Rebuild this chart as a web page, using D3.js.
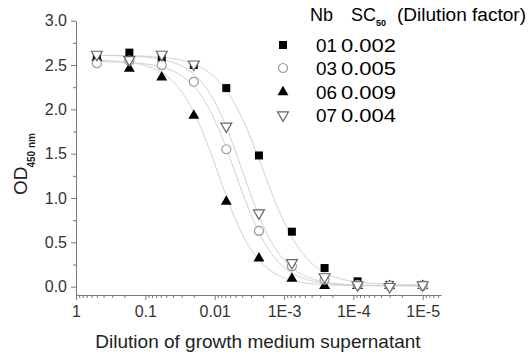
<!DOCTYPE html>
<html>
<head>
<meta charset="utf-8">
<script src="https://cdn.jsdelivr.net/npm/d3@7"></script>
<style>
  body { margin: 0; background: #fff; }
  svg { font-family: "Liberation Sans", Arial, sans-serif; }
</style>
</head>
<body>
<div id="vis"></div>
<script>
const FRAME_WIDTH = 529;
const FRAME_HEIGHT = 358;

// data
const DILUTIONS = [0.5, 0.17, 0.058, 0.02, 0.0068, 0.0023, 7.7e-4, 2.6e-4, 8.7e-5, 3e-5, 1e-5];
const OD_01 = [2.60, 2.64, 2.58, 2.50, 2.24, 1.48, 0.62, 0.21, 0.06, 0.02, 0.02];
const OD_03 = [2.52, 2.55, 2.50, 2.31, 1.55, 0.63, 0.23, 0.08, 0.02, 0.01, 0.01];
const OD_06 = [2.58, 2.46, 2.36, 1.93, 0.96, 0.32, 0.09, 0.01, 0.01, 0.01, 0.01];
const OD_07 = [2.62, 2.56, 2.62, 2.51, 1.81, 0.83, 0.27, 0.11, 0.02, 0.00, 0.02];

const NB = ["01", "03", "06", "07"];
const SC50_LABELS = ["0.002", "0.005", "0.009", "0.004"];

// logistic fit parameters per series
const SC50 = [0.002, 0.005, 0.009, 0.004];
const FIT_TOP = [2.61, 2.54, 2.56, 2.61];
const FIT_BOTTOM = [0.02, 0.01, 0.01, 0.01];
const FIT_HILL = [1.4, 1.5, 1.5, 1.5];

const X_TICKS = [1, 0.1, 0.01, 1e-3, 1e-4, 1e-5];
const X_TICK_LABELS = ["1", "0.1", "0.01", "1E-3", "1E-4", "1E-5"];
const Y_TICKS = [0, 0.5, 1.0, 1.5, 2.0, 2.5, 3.0];

const SERIES = [OD_01, OD_03, OD_06, OD_07];

const svg = d3.select("#vis")
  .append("svg")
    .attr("width", FRAME_WIDTH)
    .attr("height", FRAME_HEIGHT);

// scales (x is reversed log)
const X_SCALE = d3.scaleLog()
  .domain([1, Math.pow(10, -5.264)])
  .range([76, 441]);

const Y_SCALE = d3.scaleLinear()
  .domain([-0.094, 3.0])
  .range([295, 20.7]);

// minor ticks
let xMinor = [];
for (let e = 0; e <= 5; e++) {
  for (let k = 2; k <= 9; k++) {
    const v = k * Math.pow(10, -e - 1);
    if (v >= X_SCALE.domain()[1]) xMinor.push(v);
  }
}
const yMinor = d3.range(0.25, 3.0, 0.5);

// x axis
svg.append("g")
  .attr("transform", "translate(0,295)")
  .call(d3.axisBottom(X_SCALE).tickValues(xMinor).tickSize(3).tickSizeOuter(0).tickFormat(""))
  .call(g => g.select(".domain").remove())
  .selectAll("line").attr("stroke", "#777");

const xAxis = svg.append("g")
  .attr("transform", "translate(0,295)")
  .call(d3.axisBottom(X_SCALE)
    .tickValues(X_TICKS)
    .tickFormat((d, i) => X_TICK_LABELS[i])
    .tickSize(5)
    .tickSizeOuter(0)
    .tickPadding(6));
xAxis.select(".domain").attr("stroke", "#777");
xAxis.selectAll("line").attr("stroke", "#777");
xAxis.selectAll("text").attr("font-size", "16px").attr("fill", "#333")
  .attr("font-family", "Liberation Sans, Arial, sans-serif");

// y axis
svg.append("g")
  .attr("transform", "translate(76,0)")
  .call(d3.axisLeft(Y_SCALE).tickValues(yMinor).tickSize(3).tickSizeOuter(0).tickFormat(""))
  .call(g => g.select(".domain").remove())
  .selectAll("line").attr("stroke", "#777");

const yAxis = svg.append("g")
  .attr("transform", "translate(76,0)")
  .call(d3.axisLeft(Y_SCALE)
    .tickValues(Y_TICKS)
    .tickFormat(d3.format(".1f"))
    .tickSize(5)
    .tickSizeOuter(0)
    .tickPadding(4));
yAxis.select(".domain").attr("stroke", "#777");
yAxis.selectAll("line").attr("stroke", "#777");
yAxis.selectAll("text").attr("font-size", "16px").attr("fill", "#333")
  .attr("font-family", "Liberation Sans, Arial, sans-serif");

// axis titles
svg.append("text")
  .attr("x", 258)
  .attr("y", 348)
  .attr("text-anchor", "middle")
  .attr("font-size", "19px")
  .attr("fill", "#222")
  .text("Dilution of growth medium supernatant");

const yTitle = svg.append("text")
  .attr("transform", "translate(27,195) rotate(-90)")
  .attr("font-size", "19px")
  .attr("fill", "#222");
yTitle.append("tspan").text("OD");
yTitle.append("tspan")
  .attr("dy", 8)
  .attr("dx", -1)
  .attr("font-size", "10px")
  .attr("font-weight", "bold")
  .text("450 nm");

// fit curves
const curveX = d3.range(Math.log10(0.5), -5.0001, -0.02).map(v => Math.pow(10, v));
const line = d3.line()
  .x(d => X_SCALE(d[0]))
  .y(d => Y_SCALE(d[1]));

SERIES.forEach((s, i) => {
  const pts = curveX.map(x => [x,
    FIT_BOTTOM[i] + (FIT_TOP[i] - FIT_BOTTOM[i]) / (1 + Math.pow(SC50[i] / x, FIT_HILL[i]))]);
  svg.append("path")
    .datum(pts)
    .attr("d", line)
    .attr("fill", "none")
    .attr("stroke", "#d0d0d0")
    .attr("stroke-width", 1);
});

// markers
const SYMBOLS = [
  {type: d3.symbolSquare, size: 64, fill: "#000", stroke: "none", rot: 0},
  {type: d3.symbolCircle, size: 64, fill: "#fff", stroke: "#999", rot: 0},
  {type: d3.symbolTriangle, size: 52, fill: "#000", stroke: "none", rot: 0},
  {type: d3.symbolTriangle, size: 52, fill: "#fff", stroke: "#666", rot: 180}
];
const DRAW_ORDER = [0, 2, 1, 3];

DRAW_ORDER.forEach(i => {
  const sym = SYMBOLS[i];
  svg.selectAll(".pt" + i)
    .data(SERIES[i])
    .enter()
    .append("path")
      .attr("class", "pt" + i)
      .attr("d", d3.symbol().type(sym.type).size(sym.size))
      .attr("transform", (d, j) => "translate(" + X_SCALE(DILUTIONS[j]) + "," + Y_SCALE(d) + ") rotate(" + sym.rot + ")")
      .attr("fill", sym.fill)
      .attr("stroke", sym.stroke)
      .attr("stroke-width", 1.2);
});

// legend
const header = svg.append("text")
  .attr("y", 21)
  .attr("font-size", "18px")
  .attr("fill", "#000");
header.append("tspan").attr("x", 310).text("Nb");
header.append("tspan").attr("x", 351).text("SC");
header.append("tspan").attr("dy", 5).attr("font-size", "9px").attr("font-weight", "bold").text("50");
svg.append("text")
  .attr("x", 397)
  .attr("y", 21)
  .attr("font-size", "18px")
  .attr("fill", "#000")
  .attr("textLength", 129)
  .attr("lengthAdjust", "spacingAndGlyphs")
  .text("(Dilution factor)");

const ROW_Y = [45, 68, 92, 115];
NB.forEach((nb, i) => {
  const sym = SYMBOLS[i];
  svg.append("path")
    .attr("d", d3.symbol().type(sym.type).size(sym.size))
    .attr("transform", "translate(283," + ROW_Y[i] + ") rotate(" + sym.rot + ")")
    .attr("fill", sym.fill)
    .attr("stroke", sym.stroke)
    .attr("stroke-width", 1.2);
  svg.append("text")
    .attr("x", 316)
    .attr("y", ROW_Y[i] + 6.5)
    .attr("font-size", "18px")
    .attr("fill", "#000")
    .attr("textLength", 21)
    .attr("lengthAdjust", "spacingAndGlyphs")
    .text(nb);
  svg.append("text")
    .attr("x", 341)
    .attr("y", ROW_Y[i] + 6.5)
    .attr("font-size", "18px")
    .attr("fill", "#000")
    .attr("textLength", 55)
    .attr("lengthAdjust", "spacingAndGlyphs")
    .text(SC50_LABELS[i]);
});
</script>
</body>
</html>
